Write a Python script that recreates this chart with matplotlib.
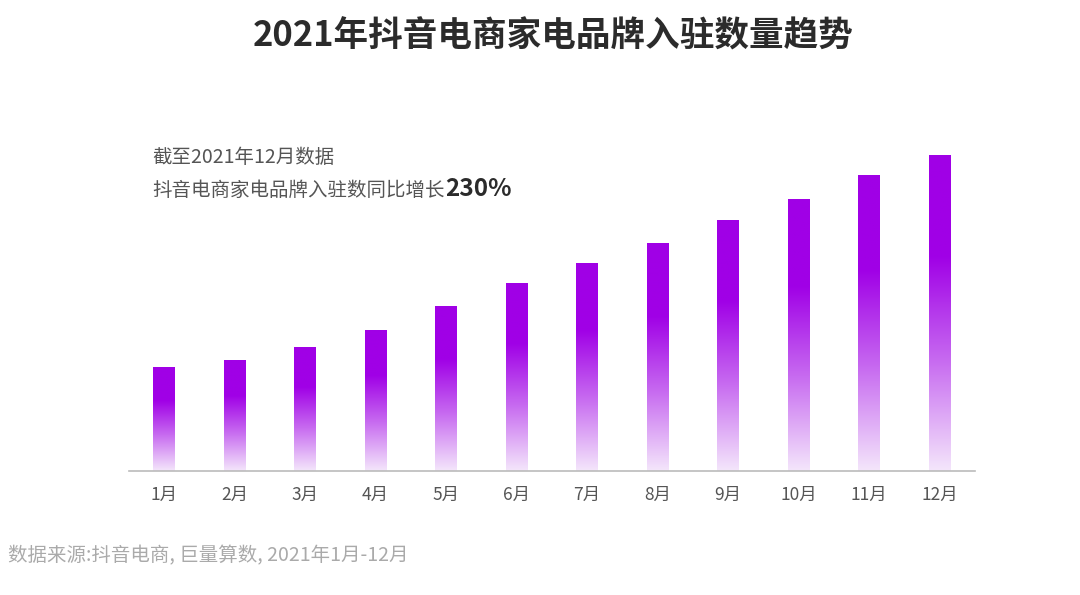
import numpy as np
import matplotlib
matplotlib.use("Agg")
import matplotlib.pyplot as plt
from matplotlib.colors import LinearSegmentedColormap

plt.rcParams['font.family'] = ['Noto Sans CJK SC', 'DejaVu Sans']

months = ["1月", "2月", "3月", "4月", "5月", "6月", "7月", "8月", "9月", "10月", "11月", "12月"]
values = [104, 111, 124, 141, 165, 188, 208, 228, 251, 272, 296, 316]

title = "2021年抖音电商家电品牌入驻数量趋势"
note1 = "截至2021年12月数据"
note2 = "抖音电商家电品牌入驻数同比增长"
note_pct = "230%"
source = "数据来源:抖音电商, 巨量算数, 2021年1月-12月"

fig = plt.figure(figsize=(10.8, 5.95), dpi=100)
ax = fig.add_axes([128.7 / 1080, 1 - 471 / 595, 846.3 / 1080, 336 / 595])

cmap = LinearSegmentedColormap.from_list(
    "fade", [(0.0, "#F4E6FB"), (0.35, "#C76AF0"), (0.68, "#A000E6"), (1.0, "#A000E6")])
grad = np.linspace(0, 1, 256).reshape(-1, 1)

x = np.arange(len(months))
w = 0.31
bars = ax.bar(x, values, width=w, color="none")
for b, v in zip(bars, values):
    ax.imshow(grad, extent=(b.get_x(), b.get_x() + b.get_width(), 0, v),
              origin="lower", cmap=cmap, aspect="auto", zorder=2)

ax.set_xlim(-0.5, len(months) - 0.5)
ax.set_ylim(0, 336)
ax.set_xticks(x)
ax.set_xticklabels(months, fontsize=12.5, color="#555555")
ax.tick_params(axis="x", length=0, pad=11)
ax.set_yticks([])
for s in ["top", "right", "left"]:
    ax.spines[s].set_visible(False)
ax.spines["bottom"].set_color("#BBBBBB")
ax.spines["bottom"].set_linewidth(1.2)

fig.text(553.5 / 1080, 1 - 36 / 595, title, ha="center", va="center",
         fontsize=24.9, fontweight="bold", color="#2B2B2B")
fig.text(152 / 1080, 1 - 158 / 595, note1, ha="left", va="center",
         fontsize=14, color="#555555")
t2 = fig.text(152 / 1080, 1 - 190 / 595, note2, ha="left", va="center",
              fontsize=14, color="#555555")
fig.canvas.draw()
bb = t2.get_window_extent()
fig.text(bb.x1 / 1080 + 0.001, 1 - 189 / 595, note_pct, ha="left", va="center",
         fontsize=17.5, fontweight="bold", color="#2B2B2B")
fig.text(8 / 1080, 1 - 556 / 595, source, ha="left", va="center",
         fontsize=14, color="#AAAAAA")

fig.savefig("out.png", dpi=100, facecolor="white")
